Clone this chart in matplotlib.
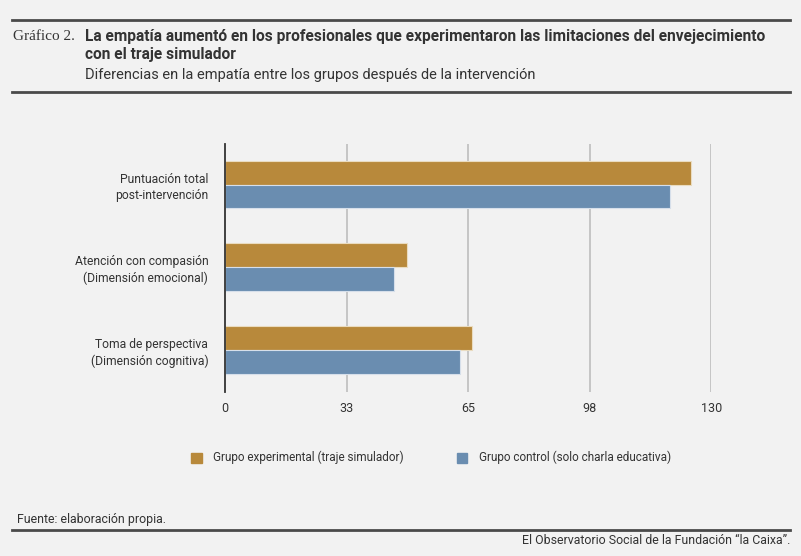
import matplotlib.pyplot as plt
from matplotlib.lines import Line2D
from matplotlib.patches import Rectangle
import numpy as np

# data
categories = ['Puntuación total\npost-intervención',
              'Atención con compasión\n(Dimensión emocional)',
              'Toma de perspectiva\n(Dimensión cognitiva)']
experimental = [124.7, 48.6, 66.1]
control = [119.0, 45.3, 62.8]
series_names = ['Grupo experimental (traje simulador)', 'Grupo control (solo charla educativa)']
tick_values = [0, 32.5, 65, 97.5, 130]
tick_labels = ['0', '33', '65', '98', '130']

BG = '#f2f2f2'
GOLD = '#b8893b'
BLUE = '#6a8db0'
DARK = '#333333'
RULE = '#4a4a4a'

plt.rcParams['font.family'] = ['Roboto', 'DejaVu Sans']

fig = plt.figure(figsize=(8.01, 5.56), dpi=100, facecolor=BG)
W, H = 801, 556

def fx(px):
    return px / W

def fy(py):
    return 1 - py / H

ax = fig.add_axes([fx(225), fy(392), fx(711.3) - fx(225), fy(144) - fy(392)])
ax.set_facecolor(BG)

y = np.arange(len(categories))
h = 0.29
ax.barh(y - h / 2, experimental, height=h, color=GOLD, edgecolor='#eadcc0', linewidth=0.8, zorder=3)
ax.barh(y + h / 2, control, height=h, color=BLUE, edgecolor='#d6dfea', linewidth=0.8, zorder=3)

ax.set_xlim(0, 130)
ax.set_ylim(2.51, -0.49)
ax.set_xticks(tick_values)
ax.set_xticklabels(tick_labels, fontsize=9, color=DARK)
ax.set_yticks(y)
ax.set_yticklabels(categories, fontsize=8.7, color=DARK, linespacing=1.3)
ax.tick_params(axis='both', length=0)
ax.tick_params(axis='x', pad=7)
ax.tick_params(axis='y', pad=12)

for v in tick_values[1:]:
    ax.axvline(v, color='#c2c2c2', linewidth=1.3, zorder=1)

for s in ['top', 'right', 'bottom']:
    ax.spines[s].set_visible(False)
ax.spines['left'].set_color(DARK)
ax.spines['left'].set_linewidth(1.3)
ax.spines['left'].set_zorder(4)

# header
fig.add_artist(Line2D([fx(12), fx(790)], [fy(20), fy(20)], color=RULE, linewidth=2.0))
fig.add_artist(Line2D([fx(12), fx(790)], [fy(92), fy(92)], color=RULE, linewidth=2.0))
fig.text(fx(13), fy(37), 'Gráfico 2.', family='Liberation Serif', fontsize=11, color=DARK, va='center')
fig.text(fx(85), fy(36), 'La empatía aumentó en los profesionales que experimentaron las limitaciones del envejecimiento',
         fontsize=11.2, fontweight='bold', color=DARK, va='center')
fig.text(fx(85), fy(54), 'con el traje simulador', fontsize=11.2, fontweight='bold', color=DARK, va='center')
fig.text(fx(85), fy(75), 'Diferencias en la empatía entre los grupos después de la intervención',
         fontsize=10.5, color=DARK, va='center')

# legend
for px, col, name in [(191, GOLD, series_names[0]), (457, BLUE, series_names[1])]:
    fig.add_artist(Rectangle((fx(px), fy(463)), fx(10.5), fy(452.5) - fy(463), color=col))
    fig.text(fx(px + 22), fy(457.5), name, fontsize=8.5, color=DARK, va='center')

# footer
fig.text(fx(17), fy(519), 'Fuente: elaboración propia.', fontsize=8.9, color=DARK, va='center')
fig.add_artist(Line2D([fx(12), fx(790)], [fy(530), fy(530)], color=RULE, linewidth=2.0))
fig.text(fx(790), fy(540), 'El Observatorio Social de la Fundación “la Caixa”.', fontsize=8.9, color=DARK,
         va='center', ha='right')

fig.savefig('out.png', dpi=100, facecolor=BG)
